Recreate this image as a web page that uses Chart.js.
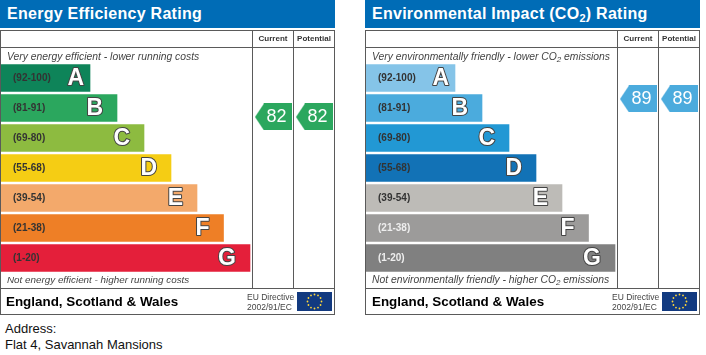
<!DOCTYPE html>
<html><head><meta charset="utf-8">
<style>
html,body{margin:0;padding:0;background:#fff;width:706px;height:355px;overflow:hidden;font-family:"Liberation Sans",Arial,sans-serif}
.panel{position:absolute;top:0;width:336px;height:316px}
.panel canvas{position:absolute;left:0;top:0}
.panel div,.panel svg{position:absolute}
.head{left:0;top:0;width:335px;height:28px;background:#006cb6;color:#fff;font:bold 16px "Liberation Sans";line-height:28px;letter-spacing:.27px;white-space:nowrap;text-indent:7px}
.head sub{font-size:11px;line-height:0;vertical-align:-3px}
.line{background:#5a5a5a}
.col{font:bold 8px "Liberation Sans";color:#333;text-align:center;top:34px;line-height:10px}
.note{left:7px;font:italic 10.35px "Liberation Sans";color:#444;white-space:nowrap;line-height:12px}
.note sub{font-size:8px;line-height:0;vertical-align:-2px}
.foot{top:293px;font:bold 13.4px "Liberation Sans";line-height:17px;color:#000;white-space:nowrap}
.eu{left:247px;font:8.5px "Liberation Sans";color:#444;line-height:10px;white-space:nowrap}
.addr{position:absolute;left:5px;font:13px "Liberation Sans";color:#111;line-height:16px;white-space:nowrap}
</style>
<script src="https://cdn.jsdelivr.net/npm/chart.js@4"></script>
</head><body>
<div class="addr" style="top:321px">Address:</div>
<div class="addr" style="top:337px">Flat 4, Savannah Mansions</div>
<script>
const bandRanges = ["(92-100)","(81-91)","(69-80)","(55-68)","(39-54)","(21-38)","(1-20)"];
const bandLetters = ["A","B","C","D","E","F","G"];
const bandLengths = [90,117,144,171,197,223.5,250];
const energyColors = ["#0e8459","#2ba75e","#8dbb40","#f5cd14","#f3a96b","#ee7f26","#e41f3a"];
const impactColors = ["#85c4e8","#4babdd","#2298d4","#1272b6","#bdbbb7","#9c9b9a","#808080"];
const energyRatings = [82,82];
const impactRatings = [89,89];
const energyLabelColors = ["#333","#333","#333","#333","#333","#333","#333"];
const impactLabelColors = ["#333","#333","#333","#333","#333","#eee","#eee"];

function arrowImage(color){
  const c=document.createElement('canvas');c.width=37;c.height=27;
  const g=c.getContext('2d');g.fillStyle=color;g.beginPath();
  g.moveTo(0,13.5);g.lineTo(9,0);g.lineTo(37,0);g.lineTo(37,27);g.lineTo(9,27);g.closePath();g.fill();
  return c;
}
const labelsPlugin={id:'bandLetters',afterDatasetsDraw(chart){
  const ctx=chart.ctx;
  ctx.save();
  ctx.textBaseline='middle';
  chart.getDatasetMeta(0).data.forEach((bar,i)=>{
    const gap=i===0?6:14;
    ctx.font='900 23px "Liberation Sans"';ctx.textAlign='right';
    ctx.lineJoin='round';ctx.lineWidth=2;ctx.strokeStyle='#444';
    ctx.strokeText(bandLetters[i],bar.x-gap,bar.y+1);
    ctx.fillStyle='#fff';ctx.fillText(bandLetters[i],bar.x-gap,bar.y+1);
  });
  chart.getDatasetMeta(1).data.forEach((pt,i)=>{
    ctx.font='18px "Liberation Sans"';ctx.textAlign='center';ctx.fillStyle='#fff';
    ctx.fillText(String(chart.data.datasets[1].data[i].y),pt.x+3,pt.y+0.5);
  });
  ctx.restore();
}};

function panel(left,title,topNote,bottomNote,bottomSize,footLeft,colors,labelColors,ratings,arrowColor){
  const p=document.createElement('div');p.className='panel';p.style.left=left+'px';
  const rect=(x,y,w,h)=>`<div class="line" style="left:${x}px;top:${y}px;width:${w}px;height:${h}px"></div>`;
  let stars='';
  for(let k=0;k<12;k++){const a=k*Math.PI/6;stars+=`<circle cx="${17.5+7*Math.sin(a)}" cy="${9.5-7*Math.cos(a)}" r="0.9" fill="#ffd83a"/>`;}
  p.innerHTML=`<canvas width="336" height="316"></canvas>
   <div class="head">${title}</div>`+
   rect(0,30,335,1)+rect(0,47,335,1)+rect(0,288,335,1)+rect(0,314,335,1)+
   rect(0,30,1,285)+rect(334,30,1,285)+rect(252,30,1,258)+rect(293,30,1,258)+
   `<div class="col" style="left:253px;width:40px">Current</div>
   <div class="col" style="left:294px;width:40px">Potential</div>
   <div class="note" style="top:51px">${topNote}</div>
   <div class="note" style="top:274px;font-size:${bottomSize}px">${bottomNote}</div>
   <div class="foot" style="left:${footLeft}px">England, Scotland &amp; Wales</div>
   <div class="eu" style="top:292px">EU Directive</div>
   <div class="eu" style="top:302px">2002/91/EC</div>
   <svg style="left:297px;top:292px" width="35" height="19"><rect width="35" height="19" fill="#123a80"/>${stars}</svg>`;
  document.body.appendChild(p);
  new Chart(p.querySelector('canvas'),{
    data:{labels:bandRanges,datasets:[
      {type:'bar',indexAxis:'y',data:bandLengths,backgroundColor:colors,barThickness:27,xAxisID:'x',yAxisID:'y'},
      {type:'scatter',data:[{x:273.5,y:ratings[0]},{x:314.5,y:ratings[1]}],xAxisID:'x',yAxisID:'rating',
       pointStyle:arrowImage(arrowColor),pointRadius:18,showLine:false}
    ]},
    options:{responsive:false,animation:false,events:[],
      layout:{autoPadding:false,padding:{top:63,bottom:43,left:0,right:0}},
      plugins:{legend:{display:false},tooltip:{enabled:false}},
      scales:{
        x:{type:'linear',min:0,max:336,display:false},
        y:{type:'category',offset:true,grid:{display:false},border:{display:false},
           afterFit(s){s.width=0;},
           ticks:{z:2,mirror:true,padding:13,color:c=>labelColors[c.index],font:{family:'"Liberation Sans"',size:10,weight:'bold'}}},
        rating:{type:'linear',axis:'y',min:21.33,max:103,display:false}
      }},
    plugins:[labelsPlugin]
  });
}
panel(0,'Energy Efficiency Rating','Very energy efficient - lower running costs','Not energy efficient - higher running costs',9.85,6,energyColors,energyLabelColors,energyRatings,'#2ba75e');
panel(365,'Environmental Impact (CO<sub>2</sub>) Rating','Very environmentally friendly - lower CO<sub>2</sub> emissions','Not environmentally friendly - higher CO<sub>2</sub> emissions',10.35,7,impactColors,impactLabelColors,impactRatings,'#4babdd');
</script>
</body></html>
